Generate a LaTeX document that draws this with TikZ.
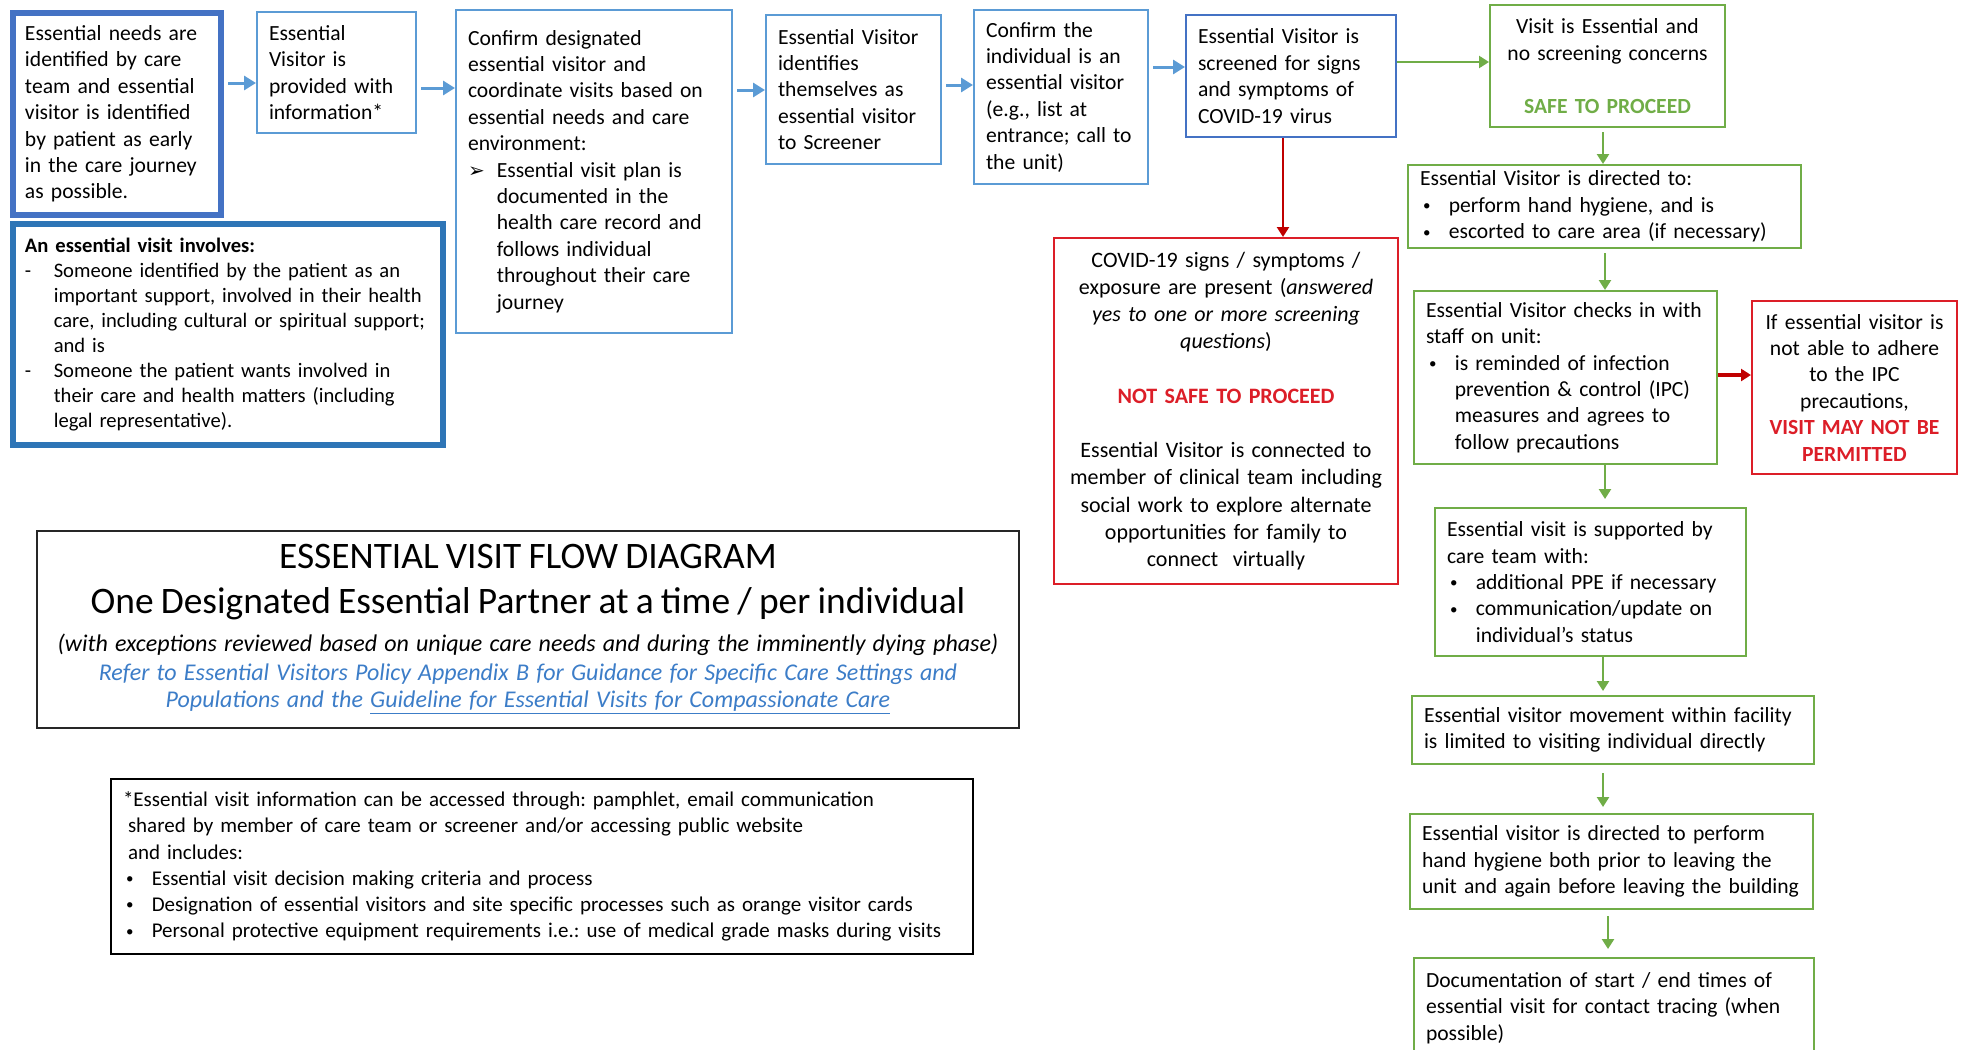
\documentclass[tikz,border=0pt]{standalone}
\usepackage{fontspec}
\setmainfont{Carlito}
\newfontfamily\dejavu{DejaVu Sans}
\usetikzlibrary{arrows.meta}

\definecolor{boxblue}{RGB}{91,155,213}
\definecolor{darkblue}{RGB}{68,114,196}
\definecolor{midblue}{RGB}{46,117,182}
\definecolor{boxgreen}{RGB}{112,173,71}
\definecolor{boxred}{RGB}{220,30,40}
\definecolor{arrowred}{RGB}{192,0,0}
\definecolor{linkblue}{RGB}{60,125,200}

% list lines inside a node
\newcommand{\itm}[1]{\par\noindent\makebox[14.4pt][l]{#1}}
\newcommand{\ind}{\par\noindent\hspace*{14.4pt}}
\newcommand{\bul}{\itm{\hspace{1.5pt}\raisebox{0.8pt}{\fontsize{7.5}{7.5}\selectfont\textbullet}}}

\begin{document}
\frenchspacing
\begin{tikzpicture}[x=0.5pt,y=-0.5pt,
    box/.style={draw,anchor=north west,align=left,inner xsep=6pt,inner ysep=2pt,line width=1pt,
        font=\fontsize{10.8}{13.2}\selectfont},
    bluebox/.style={box,draw=boxblue},
    greenbox/.style={box,draw=boxgreen},
    redbox/.style={box,draw=boxred},
    plainbox/.style={box,draw=black!85},
    barrow/.style={draw=boxblue,line width=1.5pt,-{Triangle[length=6pt,width=7pt]},shorten <=2pt},
    garrow/.style={draw=boxgreen,line width=1.2pt,-{Triangle[length=5pt,width=6pt]}},
    rarrow/.style={draw=arrowred,line width=1.2pt,-{Triangle[length=5pt,width=6pt]}}]
    \clip (0,0) rectangle (1961,1050);
    \fill[white] (0,0) rectangle (1961,1050);

    % top row
    \node[bluebox,draw=darkblue,line width=3pt,text width=92pt,minimum height=101pt] (needs) at (10,10)
        {Essential needs are\\ identified by care\\ team and essential\\ visitor is identified\\ by patient as early\\ in the care journey\\ as possible.};
    \node[bluebox,text width=67.5pt,minimum height=60.5pt] (info) at (256,11)
        {Essential\\ Visitor is\\ provided with\\ information*};
    \node[bluebox,text width=126pt,minimum height=161.5pt] (designate) at (455,9)
        {Confirm designated\\ essential visitor and\\ coordinate visits based on\\ essential needs and care\\ environment:
        \itm{\dejavu\fontsize{10}{10}\selectfont ➢}Essential visit plan is
        \ind documented in the
        \ind health care record and
        \ind follows individual
        \ind throughout their care
        \ind journey};
    \node[bluebox,text width=75.5pt,minimum height=74.5pt] (identify) at (765,14)
        {Essential Visitor\\ identifies\\ themselves as\\ essential visitor\\ to Screener};
    \node[bluebox,text width=75pt,minimum height=87pt] (confirm) at (973,9)
        {Confirm the\\ individual is an\\ essential visitor\\ (e.g., list at\\ entrance; call to\\ the unit)};
    \node[bluebox,draw=darkblue,text width=93pt,minimum height=61pt] (screen) at (1185,14)
        {Essential Visitor is\\ screened for signs\\ and symptoms of\\ COVID-19 virus};

    % green path
    \node[greenbox,align=center,text width=105.5pt,minimum height=61pt] (safe) at (1489,4)
        {Visit is Essential and\\ no screening concerns\\[13.2pt] {\color{boxgreen}\bfseries SAFE TO PROCEED}};
    \node[greenbox,text width=184.5pt,minimum height=41.5pt] (directed) at (1407,164)
        {Essential Visitor is directed to:
        \bul perform hand hygiene, and is
        \bul escorted to care area (if necessary)};
    \node[greenbox,text width=139.5pt,minimum height=86.5pt] (checkin) at (1413,290)
        {Essential Visitor checks in with\\ staff on unit:
        \bul is reminded of infection
        \ind prevention \& control (IPC)
        \ind measures and agrees to
        \ind follow precautions};
    \node[redbox,align=center,text width=90.5pt,minimum height=86.5pt] (notpermit) at (1751,300)
        {If essential visitor is\\ not able to adhere\\ to the IPC\\ precautions,\\ {\color{boxred}\bfseries VISIT MAY NOT BE}\\ {\color{boxred}\bfseries PERMITTED}};
    \node[greenbox,text width=143.5pt,minimum height=74pt] (supported) at (1434,507)
        {Essential visit is supported by\\ care team with:
        \bul additional PPE if necessary
        \bul communication/update on
        \ind individual’s status};
    \node[greenbox,text width=189pt,minimum height=34pt] (movement) at (1411,695)
        {Essential visitor movement within facility\\ is limited to visiting individual directly};
    \node[greenbox,text width=189.5pt,minimum height=47.5pt] (hygiene) at (1409,813)
        {Essential visitor is directed to perform\\ hand hygiene both prior to leaving the\\ unit and again before leaving the building};
    \node[greenbox,text width=188pt,minimum height=50pt] (document) at (1413,957)
        {Documentation of start / end times of\\ essential visit for contact tracing (when\\ possible)};

    % red path
    \node[redbox,align=center,text width=160pt,minimum height=173pt,font=\fontsize{11}{13.6}\selectfont] (unsafe) at (1053,237)
        {COVID-19 signs / symptoms /\\ exposure are present (\textit{answered}\\ \textit{yes to one or more screening}\\ \textit{questions})\\[13.6pt]
        {\color{boxred}\bfseries NOT SAFE TO PROCEED}\\[13.6pt]
        Essential Visitor is connected to\\ member of clinical team including\\ social work to explore alternate\\ opportunities for family to\\ connect\ \ virtually};

    % left side notes
    \node[bluebox,draw=midblue,line width=3pt,text width=203pt,minimum height=110.5pt,font=\fontsize{10.3}{12.5}\selectfont] (involves) at (10,221)
        {\textbf{An essential visit involves:}
        \itm{-}Someone identified by the patient as an
        \ind important support, involved in their health
        \ind care, including cultural or spiritual support;
        \ind and is
        \itm{-}Someone the patient wants involved in
        \ind their care and health matters (including
        \ind legal representative).};
    \node[plainbox,align=center,inner xsep=2pt,text width=487pt,minimum height=98.5pt] (title) at (36,530)
        {\fontsize{18.7}{22.5}\selectfont ESSENTIAL VISIT FLOW DIAGRAM\\ One Designated Essential Partner at a time / per individual\\[4.2pt]
        \fontsize{12}{14.8}\selectfont\itshape (with exceptions reviewed based on unique care needs and during the imminently dying phase)\\
        \color{linkblue}Refer to Essential Visitors Policy Appendix B for Guidance for Specific Care Settings and\\ Populations and the \underline{Guideline for Essential Visits for Compassionate Care}};
    \node[plainbox,draw=black,text width=419pt,minimum height=87.5pt,font=\fontsize{10.5}{13.1}\selectfont] (footnote) at (110,778)
        {*Essential visit information can be accessed through: pamphlet, email communication\\
        \hspace*{2.5pt}shared by member of care team or screener and/or accessing public website\\
        \hspace*{2.5pt}and includes:
        \bul Essential visit decision making criteria and process
        \bul Designation of essential visitors and site specific processes such as orange visitor cards
        \bul Personal protective equipment requirements i.e.: use of medical grade masks during visits};

    % connectors
    \draw[barrow] (needs.east |- 0,83) -- (info.west |- 0,83);
    \draw[barrow] (info.east |- 0,88) -- (designate.west |- 0,88);
    \draw[barrow] (designate.east |- 0,90) -- (identify.west |- 0,90);
    \draw[barrow] (identify.east |- 0,85) -- (confirm.west |- 0,85);
    \draw[barrow] (confirm.east |- 0,67) -- (screen.west |- 0,67);
    \draw[garrow] (screen.east |- 0,62) -- (safe.west |- 0,62);
    \draw[rarrow] (screen.south -| 1283,0) -- (unsafe.north -| 1283,0);
    \draw[garrow,shorten <=2pt] (safe.south -| 1603,0) -- (directed.north -| 1603,0);
    \draw[garrow,shorten <=2pt] (directed.south -| 1605,0) -- (checkin.north -| 1605,0);
    \draw[rarrow,line width=1.6pt] (checkin.east |- 0,375) -- (notpermit.west |- 0,375);
    \draw[garrow,shorten >=4pt] (checkin.south -| 1605,0) -- (supported.north -| 1605,0);
    \draw[garrow,shorten >=2pt] (supported.south -| 1603,0) -- (movement.north -| 1603,0);
    \draw[garrow,shorten <=4pt,shorten >=3pt] (movement.south -| 1603,0) -- (hygiene.north -| 1603,0);
    \draw[garrow,shorten <=3pt,shorten >=4pt] (hygiene.south -| 1608,0) -- (document.north -| 1608,0);
\end{tikzpicture}
\end{document}
